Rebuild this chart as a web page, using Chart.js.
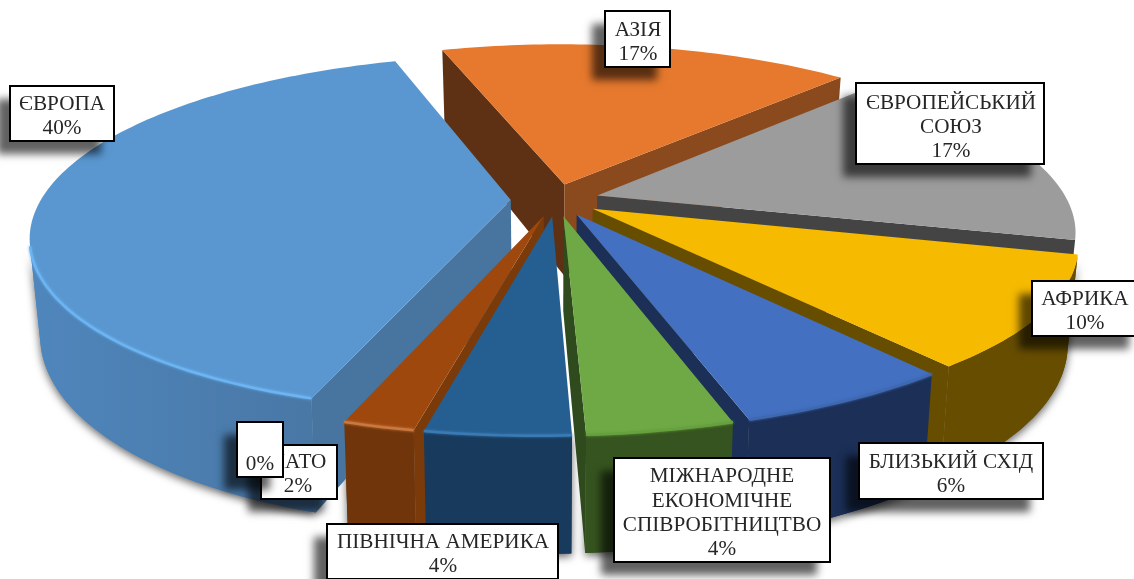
<!DOCTYPE html>
<html><head><meta charset="utf-8">
<script src="https://cdn.jsdelivr.net/npm/chart.js@4"></script>
<style>html,body{margin:0;padding:0;background:#fff}#w{width:1134px;height:579px;position:relative}</style>
</head><body><div id="w"><canvas id="c"></canvas></div>
<script>
const categories=['АЗІЯ','ЄВРОПЕЙСЬКИЙ СОЮЗ','АФРИКА','БЛИЗЬКИЙ СХІД','МІЖНАРОДНЕ ЕКОНОМІЧНЕ СПІВРОБІТНИЦТВО','ПІВНІЧНА АМЕРИКА','НАТО','','ЄВРОПА'];
const shares=[17,17,10,6,4,4,2,0,40];
const topColors=['#E6792E','#9C9C9C','#F6BA00','#4370C0','#6FA945','#255E91','#9E480E','#636363','#5A97D0'];
const wallColors=['#8A4A1E','#444444','#664D00','#1B2F57','#36541F','#183A5C','#70350A','#333333','#4F86BC'];
const wallColorsEnd=['#8A4A1E','#444444','#664D00','#1B2F57','#36541F','#183A5C','#70350A','#333333','#47739F'];
const sideA=['#5F3114','#444444','#664D00','#1B2F57','#2F4A1C','#183A5C','#7A3A0A','#333333','#47759F'];
const sideB=['#8A4A1E','#444444','#664D00','#1B2F57','#2F4A1C','#183A5C','#7A3A0A','#333333','#47759F'];
const bevel=['#E6792E','#9C9C9C','#F6BA00','#3F68B0','#66A03F','#3A7BB4','#C9783F','#636363','#6CB4F2'];
const labelLines=[['АЗІЯ'],['ЄВРОПЕЙСЬКИЙ','СОЮЗ'],['АФРИКА'],['БЛИЗЬКИЙ СХІД'],['МІЖНАРОДНЕ','ЕКОНОМІЧНЕ','СПІВРОБІТНИЦТВО'],['ПІВНІЧНА АМЕРИКА'],['НАТО'],[''],['ЄВРОПА']];
const boxes=[[605,11,65,56,638],[856,83,188,81,951],[1032,281,110,55,1085],[859,443,184,56,951],[614,458,216,104,722],[327,524,231,55,443],[261,445,76,54,298],[237,422,46,55,260],[10,86,104,55,62]];
const paintOrder=[0,1,8,2,3,6,5,4];
const labelOrder=[0,8,1,2,3,5,4,6,7];
const P={cx:555,cy:200,a:470,b:173,p:0.195,h:93,conv:0.02,shearX:13,liftY:4};
function proj(X,Y,Z){
  const w=1/(1-P.p*Y),f=Y>0?Y*Y:0;
  return [P.cx+P.a*X*w*(1-P.conv*Z)-P.shearX*f*Y,P.cy+(P.b*Y+P.h*Z)*w-P.liftY*f];
}
function poly(ctx,pts,fill){ctx.beginPath();pts.forEach((q,i)=>i?ctx.lineTo(q[0],q[1]):ctx.moveTo(q[0],q[1]));ctx.closePath();ctx.fillStyle=fill;ctx.fill();}
function area(pts){let s=0;pts.forEach((q,i)=>{const r=pts[(i+1)%pts.length];s+=q[0]*r[1]-r[0]*q[1];});return s;}
function geom(arc){
  const g=arc.getProps(['startAngle','endAngle','outerRadius'],true),off=arc.options.offset||0,R=g.outerRadius;
  const mid=(g.startAngle+g.endAngle)/2,ox=Math.cos(mid)*off/R,oy=Math.sin(mid)*off/R,rim=[];
  const n=Math.max(2,Math.ceil((g.endAngle-g.startAngle)/0.02));
  for(let i=0;i<=n;i++){const t=g.startAngle+(g.endAngle-g.startAngle)*i/n;rim.push([ox+Math.cos(t),oy+Math.sin(t)]);}
  return {ox,oy,rim};
}
function frontWall(up,low){ // outline of only the part of the outer wall that faces the viewer
  let a=-1,b=-1;
  for(let k=0;k<up.length-1;k++){
    if(area([up[k],up[k+1],low[k+1],low[k]])<0){if(a<0)a=k;b=k+1;}
  }
  return a<0?null:up.slice(a,b+1).concat(low.slice(a,b+1).reverse());
}
const pie3d={id:'pie3d',
  beforeDatasetDraw(chart,args){
    const ctx=chart.ctx,arcs=args.meta.data;
    ctx.save();
    paintOrder.forEach(i=>{
      const g=geom(arcs[i]);
      const wall=frontWall(g.rim.map(q=>proj(q[0],q[1],0)),g.rim.map(q=>proj(q[0],q[1],1)));
      if(!wall)return;
      ctx.save();ctx.shadowColor='rgba(0,0,0,0.6)';ctx.shadowBlur=9;ctx.shadowOffsetY=3;
      poly(ctx,wall,wallColors[i]);ctx.restore();
    });
    paintOrder.forEach(i=>{
      const g=geom(arcs[i]),rim=g.rim,c0=proj(g.ox,g.oy,0),c1=proj(g.ox,g.oy,1);
      const up=rim.map(q=>proj(q[0],q[1],0)),low=rim.map(q=>proj(q[0],q[1],1));
      const xs=up.map(q=>q[0]),grad=ctx.createLinearGradient(Math.min(...xs),0,Math.max(...xs),0);
      grad.addColorStop(0,wallColors[i]);grad.addColorStop(1,wallColorsEnd[i]);
      const fa=[c0,up[0],low[0],c1],fb=[c0,up[up.length-1],low[low.length-1],c1];
      if(area(fa)<0)poly(ctx,fa,sideA[i]);
      if(area(fb)>0)poly(ctx,fb,sideB[i]);
      const wall=frontWall(up,low);
      if(wall)poly(ctx,wall,grad);
      poly(ctx,[c0].concat(up),topColors[i]);
      if(bevel[i]===topColors[i])return;
      ctx.save();ctx.beginPath();let on=false;
      rim.forEach((q,k)=>{const s=up[k];if(q[1]>0.25){on?ctx.lineTo(s[0],s[1]):ctx.moveTo(s[0],s[1]);on=true;}});
      ctx.strokeStyle=bevel[i];ctx.lineWidth=2.5;ctx.shadowColor=bevel[i];ctx.shadowBlur=3;ctx.stroke();ctx.restore();
    });
    ctx.restore();
    return false;
  },
  afterDraw(chart){
    const ctx=chart.ctx;ctx.save();
    labelOrder.forEach(i=>{
      const [x,y,w,h,tx]=boxes[i];
      ctx.save();ctx.shadowColor='rgba(0,0,0,0.62)';ctx.shadowBlur=8;ctx.shadowOffsetX=-13;ctx.shadowOffsetY=13;
      ctx.fillStyle='#fff';ctx.fillRect(x,y,w,h);ctx.restore();
      ctx.strokeStyle='#000';ctx.lineWidth=2;ctx.strokeRect(x,y,w,h);
      ctx.fillStyle='#262626';ctx.font='20px "Liberation Serif"';ctx.textAlign='center';ctx.textBaseline='middle';
      const lines=labelLines[i].concat([shares[i]+'%']);
      const bottom=y+h-12;
      lines.forEach((t,k)=>{ctx.save();ctx.translate(tx,bottom-(lines.length-1-k)*24.3);ctx.scale(1.06,1);ctx.fillText(t,0,0);ctx.restore();});
    });
    ctx.restore();
  }
};
new Chart(document.getElementById('c'),{type:'pie',
  data:{labels:categories,datasets:[{data:shares,backgroundColor:topColors,borderWidth:0,offset:26}]},
  options:{responsive:true,maintainAspectRatio:false,animation:false,rotation:-18,
    layout:{padding:0},plugins:{legend:{display:false},tooltip:{enabled:false}}},
  plugins:[pie3d]});
</script></body></html>
